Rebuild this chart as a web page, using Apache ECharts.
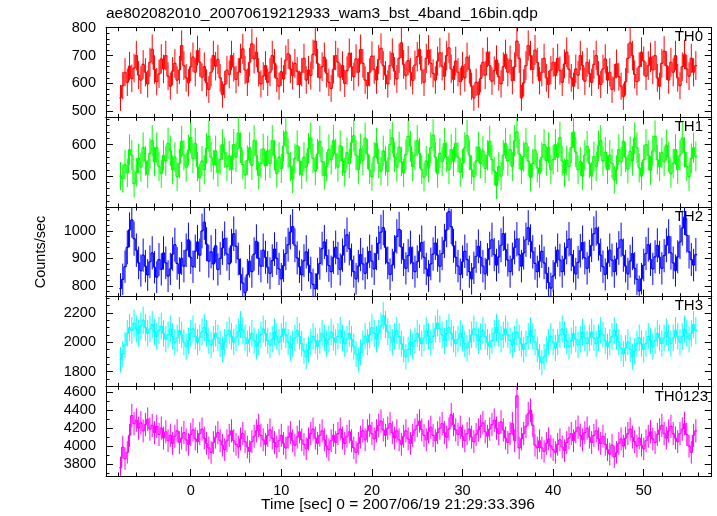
<!DOCTYPE html>
<html><head><meta charset="utf-8">
<script src="https://cdn.jsdelivr.net/npm/echarts@6/dist/echarts.min.js"></script>
<style>html,body{margin:0;padding:0;background:#fff}#c{width:717px;height:516px}</style>
</head><body><div id="c"></div>
<script>
// ---- data (count rate, counts/sec), 0.25 s bins starting at t = -7.75 s ----
const binWidth = 0.25;
const tStart = -7.75;

const TH0 = [
548,592,640,604,662,618,655,700,630,612,668,640,598,676,722,650,
606,634,688,652,700,626,590,644,672,612,648,736,664,620,602,660,
694,640,718,676,622,660,602,578,640,700,662,686,620,560,596,648,
632,700,658,614,640,690,724,648,604,676,742,688,712,640,598,626,
664,604,640,700,672,618,590,642,616,684,706,652,628,672,644,596,
640,690,612,648,628,704,752,672,620,660,694,636,604,582,650,700,
676,622,664,600,646,708,660,624,688,640,722,672,612,592,640,698,
650,612,686,726,664,630,598,664,708,644,616,690,746,668,628,682,
640,610,666,696,722,648,604,690,720,672,636,612,680,710,662,626,
700,728,652,614,680,640,606,662,620,694,650,590,548,604,560,618,
676,630,712,664,608,646,684,624,598,660,704,640,684,610,660,752,
690,548,602,664,736,700,650,720,676,610,640,690,620,596,648,676,
628,690,646,604,670,712,650,620,590,652,630,700,664,608,676,636,
604,668,700,630,596,652,688,612,640,578,620,670,624,590,552,606,
690,746,700,632,606,660,712,680,626,664,694,648,700,620,590,672,
716,664,612,676,640,700,620,592,660,704,652,626,690,640,664
];
const TH1 = [
500,492,536,510,584,566,476,512,556,528,590,548,506,572,612,546,
590,530,508,566,548,604,580,520,560,498,540,610,566,528,582,622,
556,604,530,494,548,520,588,626,560,536,580,512,552,600,574,530,
564,520,600,560,636,590,536,504,550,590,534,612,566,502,540,586,
532,580,540,612,566,508,560,524,596,640,572,530,490,556,596,548,
504,560,528,588,620,556,516,570,610,546,502,530,584,552,612,570,
528,596,548,512,574,540,606,628,566,520,586,550,620,570,520,498,
560,604,540,516,580,548,514,600,622,560,528,592,546,510,568,626,
594,530,566,612,572,520,496,548,526,590,630,560,508,572,546,604,
560,520,584,546,604,560,512,540,590,628,566,520,498,548,592,540,
580,524,566,610,552,516,470,530,500,566,604,548,584,530,612,640,
570,520,562,604,548,496,540,582,526,508,560,600,548,590,520,552,
600,560,622,548,510,550,530,590,640,576,520,546,500,566,594,540,
500,562,530,596,612,548,576,520,566,540,488,520,584,546,610,560,
522,578,548,620,590,526,500,552,600,566,518,580,626,552,530,574,
546,598,560,508,540,584,520,566,620,576,530,498,556,590,562
];
const TH2 = [
790,824,870,940,1004,1040,972,930,884,856,912,872,840,888,920,868,
832,896,860,920,884,836,862,916,950,882,846,900,872,930,968,904,
870,926,960,912,1000,1032,952,890,924,880,946,860,900,938,972,916,
880,946,990,944,898,842,810,776,840,890,852,916,962,900,872,930,
904,868,846,892,934,900,862,826,874,918,950,996,1016,948,902,870,
840,892,924,876,848,806,790,844,882,936,960,910,874,852,904,940,
900,860,912,946,986,936,894,852,826,872,914,880,846,884,926,890,
862,918,956,996,1012,940,884,842,876,924,980,1006,942,896,864,910,
940,884,852,888,926,958,904,862,836,880,916,956,912,872,918,964,
1004,1070,1016,946,904,872,842,888,926,896,852,826,866,908,944,904,
872,844,896,936,968,914,876,906,948,990,932,894,852,898,940,970,
914,872,920,968,1012,962,924,882,852,890,926,884,846,812,792,836,
884,930,894,852,898,940,970,914,872,844,886,928,958,902,864,908,
948,990,1010,954,912,870,842,884,930,894,852,898,938,968,912,872,
844,890,918,864,824,782,826,876,918,950,896,862,906,948,904,864,
910,948,980,920,884,856,906,960,1010,1050,984,924,896,876,914
];
const TH3 = [
1880,1920,1980,2060,2100,2080,2130,2090,2060,2110,2150,2100,2060,2090,2120,2070,
2040,2080,2110,2060,2020,2050,2090,2040,2000,2030,2080,2050,2000,1970,2010,2060,
2090,2040,2000,2030,2070,2100,2060,2010,1980,2020,2060,2030,1990,1950,2000,2050,
2080,2040,2000,2030,2070,2120,2080,2030,1990,2020,2060,2010,1970,2000,2050,2090,
2060,2010,1980,2020,2070,2040,2000,2040,2090,2050,2000,1960,1990,2030,2080,2040,
1990,1940,1900,1950,2000,2040,2010,1970,2010,2060,2030,1990,2020,2070,2030,2000,
2040,2080,2030,1990,2020,2060,2020,1970,1920,1880,1930,1990,2040,2000,2050,2100,
2060,2020,2060,2110,2180,2120,2070,2030,2000,2040,2080,2040,1990,1950,1900,1950,
2000,1970,2010,2060,2030,1990,2030,2080,2040,2000,2040,2090,2130,2090,2050,2010,
2060,2100,2060,2020,1990,2020,2060,2030,1990,1960,2000,2050,2090,2050,2010,2040,
2080,2040,2000,1970,2010,2060,2100,2060,2020,2050,2090,2050,2010,1980,2020,2070,
2030,1990,1950,1990,2040,2080,2040,2000,1950,1900,1860,1900,1950,2000,2040,2000,
1960,2000,2050,2090,2050,2010,1970,2010,2060,2020,1980,2020,2070,2030,1990,2030,
2070,2030,1990,2030,2080,2050,2010,1970,2000,2040,2080,2040,2000,1960,1920,1960,
2000,1950,1900,1940,1990,2030,1990,1950,1990,2040,2010,1970,2010,2060,2030,1990,
2030,2070,2030,1990,2030,2080,2040,2000,2040,2090,2060,2020,2060,2120,2080
];
const TH0123 = [
3760,3990,3860,3930,4120,4340,4250,4290,4200,4260,4170,4240,4300,4190,4230,4150,
4220,4130,4200,4090,4160,4060,4120,4030,4110,4170,4040,4090,4150,4070,4020,4130,
4180,4080,4050,4140,4190,4090,4030,3980,3930,4040,4100,4150,4060,4010,3960,4060,
4120,4170,4060,4020,3990,4080,4140,4050,3990,3940,4050,4110,4170,4230,4120,4070,
4020,4120,4180,4090,4040,3990,4060,4120,4030,3980,4100,4150,4060,4010,4100,4160,
4070,4020,3970,4080,4140,4190,4090,4030,4120,4170,4070,4000,3960,4060,4120,4040,
4140,4190,4090,4030,4110,4160,4060,3980,3930,4030,4100,4170,4070,4170,4230,4140,
4080,4170,4230,4280,4180,4120,4200,4250,4150,4090,4170,4070,4020,4110,4170,4080,
4030,4120,4180,4230,4280,4180,4120,4070,4160,4210,4120,4060,4150,4200,4250,4150,
4100,4190,4350,4240,4180,4130,4210,4110,4060,4140,4190,4100,4050,4130,4180,4220,
4260,4160,4110,4190,4240,4290,4200,4140,4270,4180,4090,4040,4140,4250,4060,4560,
3980,4080,4140,4220,4360,4400,4230,4010,3980,4060,3980,3940,4030,4080,4000,3960,
3930,4020,4070,3990,3950,4040,4090,4140,4060,4160,4210,4120,4070,4150,4200,4100,
4040,4120,4170,4080,4030,4110,4020,3960,3910,4010,3880,3930,4030,4080,4000,4090,
4140,4190,4100,4050,4000,4090,4010,3970,4060,4110,4160,4080,4040,4130,4180,4230,
4140,4090,4170,4220,4140,4090,4050,4140,4190,4250,4130,4000,3930,4120,4170
];

const panelNames = ['TH0', 'TH1', 'TH2', 'TH3', 'TH0123'];
const panelData = [TH0, TH1, TH2, TH3, TH0123];
const panelColors = ['#ff0000', '#00ff00', '#0000ff', '#00ffff', '#ff00ff'];
const yRanges = [[478, 800], [402, 686], [761, 1087], [1699, 2310], [3667, 4666]];
const yMajor = [[500, 600, 700, 800], [500, 600], [800, 900, 1000], [1800, 2000, 2200], [3800, 4000, 4200, 4400, 4600]];
const yMinorStep = [20, 20, 20, 50, 100];
const xRange = [-9.35, 57.5];
const xMajor = [0, 10, 20, 30, 40, 50];
const xMinorStep = 2;

const titleText = 'ae802082010_20070619212933_wam3_bst_4band_16bin.qdp';
const xTitle = 'Time [sec] 0 = 2007/06/19 21:29:33.396';
const yTitle = 'Counts/sec';

// ---- layout ----
const FONT = '"Liberation Sans", Arial, Helvetica, sans-serif';
const gridLeft = 106, gridRight = 5.3, gridTop0 = 27.7, gridH = 89.66;
const labelPos = [[703, 2], [703, 2], [703, 2], [703, 2], [708, 3]];

function minorList(min, max, step, skip) {
  const out = [];
  for (let v = Math.ceil(min / step) * step; v <= max; v += step) {
    if (skip.indexOf(v) < 0) out.push(v);
  }
  return out;
}

const grids = [], xAxes = [], yAxes = [], series = [], graphics = [];
const xMinor = minorList(xRange[0], xRange[1], xMinorStep, xMajor);
const plainNum = v => String(Math.round(v));

panelNames.forEach((name, i) => {
  const top = gridTop0 + i * gridH;
  grids.push({ left: gridLeft, right: gridRight, top: top, height: gridH, containLabel: false });
  const baseX = {
    gridIndex: i, type: 'value', min: xRange[0], max: xRange[1],
    splitLine: { show: false }, axisLine: { show: true, onZero: false, lineStyle: { color: '#000', width: 1 } },
    axisLabel: { show: false }
  };
  const last = i === panelNames.length - 1;
  xAxes.push(Object.assign({}, baseX, {
    position: 'bottom',
    axisTick: { show: true, inside: true, length: 7, customValues: xMajor, lineStyle: { color: '#000' } },
    axisLabel: { show: last, customValues: xMajor, formatter: plainNum, color: '#000', fontSize: 14.5, fontFamily: FONT, margin: 7 }
  }));
  xAxes.push(Object.assign({}, baseX, {
    position: 'top',
    axisTick: { show: true, inside: true, length: 7, customValues: xMajor, lineStyle: { color: '#000' } }
  }));
  xAxes.push(Object.assign({}, baseX, {
    position: 'bottom', axisLine: { show: false, onZero: false },
    axisTick: { show: true, inside: true, length: 3.5, customValues: xMinor, lineStyle: { color: '#000' } }
  }));
  xAxes.push(Object.assign({}, baseX, {
    position: 'top', axisLine: { show: false, onZero: false },
    axisTick: { show: true, inside: true, length: 3.5, customValues: xMinor, lineStyle: { color: '#000' } }
  }));

  const yr = yRanges[i];
  const yMin = minorList(yr[0], yr[1], yMinorStep[i], yMajor[i]);
  const baseY = {
    gridIndex: i, type: 'value', min: yr[0], max: yr[1], scale: true,
    splitLine: { show: false }, axisLine: { show: true, onZero: false, lineStyle: { color: '#000', width: 1 } },
    axisLabel: { show: false }
  };
  yAxes.push(Object.assign({}, baseY, {
    position: 'left',
    axisTick: { show: true, inside: true, length: 7, customValues: yMajor[i], lineStyle: { color: '#000' } },
    axisLabel: { show: true, customValues: yMajor[i], formatter: plainNum, color: '#000', fontSize: 14.5, fontFamily: FONT, margin: 10 }
  }));
  yAxes.push(Object.assign({}, baseY, {
    position: 'right',
    axisTick: { show: true, inside: true, length: 7, customValues: yMajor[i], lineStyle: { color: '#000' } }
  }));
  yAxes.push(Object.assign({}, baseY, {
    position: 'left', axisLine: { show: false, onZero: false },
    axisTick: { show: true, inside: true, length: 3.5, customValues: yMin, lineStyle: { color: '#000' } }
  }));
  yAxes.push(Object.assign({}, baseY, {
    position: 'right', axisLine: { show: false, onZero: false },
    axisTick: { show: true, inside: true, length: 3.5, customValues: yMin, lineStyle: { color: '#000' } }
  }));

  const vals = panelData[i];
  const color = panelColors[i];
  const data = vals.map((v, k) => [tStart + k * binWidth, v, 2 * Math.sqrt(v)]);
  series.push({
    type: 'custom', name: name, xAxisIndex: i * 4, yAxisIndex: i * 4, clip: true,
    data: data, silent: true, animation: false,
    renderItem: function (params, api) {
      const k = params.dataIndex;
      const t = api.value(0), v = api.value(1), e = api.value(2);
      const pL = api.coord([t - binWidth / 2, v]);
      const pR = api.coord([t + binWidth / 2, v]);
      const pT = api.coord([t, v + e]);
      const pB = api.coord([t, v - e]);
      const children = [
        { type: 'line', shape: { x1: pT[0], y1: pT[1], x2: pB[0], y2: pB[1] }, style: { stroke: color, lineWidth: 1 } },
        { type: 'line', shape: { x1: pL[0], y1: pL[1], x2: pR[0], y2: pR[1] }, style: { stroke: color, lineWidth: 1.2 } }
      ];
      if (k > 0) {
        const pP = api.coord([t - binWidth / 2, vals[k - 1]]);
        children.push({ type: 'line', shape: { x1: pP[0], y1: pP[1], x2: pL[0], y2: pL[1] }, style: { stroke: color, lineWidth: 1.2 } });
      }
      return { type: 'group', children: children };
    }
  });

  graphics.push({
    type: 'text', x: labelPos[i][0], y: top + labelPos[i][1],
    style: { text: name, fill: '#000', font: '15px ' + FONT, textAlign: 'right', textVerticalAlign: 'top' }
  });
});

graphics.push({ type: 'text', x: 106, y: 6, style: { text: titleText, fill: '#000', font: '15.5px ' + FONT, textVerticalAlign: 'top' } });
graphics.push({ type: 'text', x: 398, y: 505, style: { text: xTitle, fill: '#000', font: '15.5px ' + FONT, textAlign: 'center', textVerticalAlign: 'middle' } });
graphics.push({ type: 'text', x: 41, y: 252, rotation: Math.PI / 2,
  style: { text: yTitle, fill: '#000', font: '14.5px ' + FONT, textAlign: 'center', textVerticalAlign: 'middle' } });

const chart = echarts.init(document.getElementById('c'), null, { renderer: 'canvas' });
chart.setOption({
  backgroundColor: '#fff', animation: false,
  grid: grids, xAxis: xAxes, yAxis: yAxes, series: series, graphic: graphics
});
</script></body></html>
